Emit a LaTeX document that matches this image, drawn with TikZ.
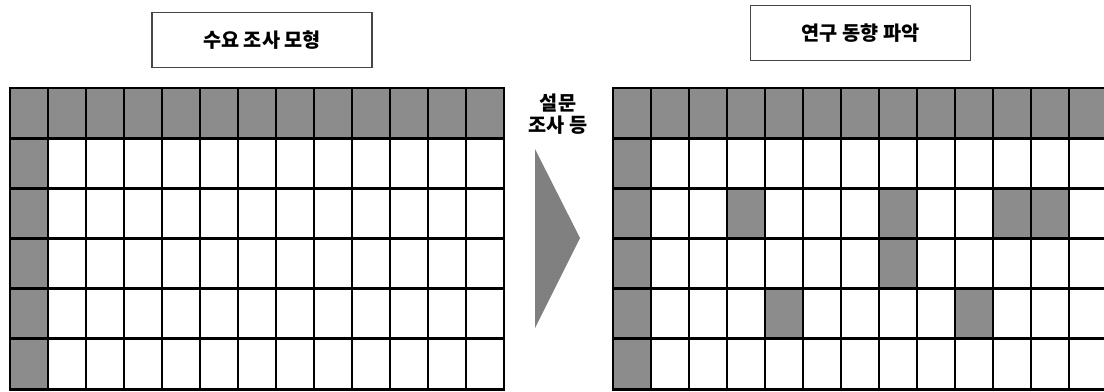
\documentclass[tikz,border=0pt]{standalone}
\usepackage{fontspec}
\newfontfamily\kofont{Noto Sans CJK KR}
\usetikzlibrary{positioning}
\definecolor{cellgray}{RGB}{140,140,140}
\definecolor{arrowgray}{RGB}{128,128,128}
\definecolor{boxline}{RGB}{70,70,70}

\begin{document}
\begin{tikzpicture}[x=0.025cm, y=-0.025cm,
      title/.style={
        rectangle, draw=boxline, fill=white, line width=1.1pt,
        minimum width=5.5cm, minimum height=1.38cm,
        font=\kofont\bfseries\fontsize{14}{16}\selectfont
      },
      cell/.style={fill=cellgray},
      gridline/.style={line width=2.1pt, draw=black, line cap=rect},
      label/.style={align=center, font=\kofont\bfseries\fontsize{14}{16}\selectfont}
    ]
      \useasboundingbox (0,0) rectangle (1104,391);
      % --- Titles above the two grids ---
      \node[title] (model) at (262,40) {수요 조사 모형};
      \node[title] (trend) at (860.5,33) {연구 동향 파악};
      % --- Shaded header row and first column, in both grids ---
      \foreach \gx in {10,613} {
        \foreach \c in {0,...,12}
          \fill[cell] (\gx+38*\c,88) rectangle ++(38,50.17);
        \foreach \r in {1,...,5}
          \fill[cell] (\gx,88+50.17*\r) rectangle ++(38,50.17);
      }
      % --- Cells found in the right grid (column/row) ---
      \foreach \c/\r in {3/2, 7/2, 10/2, 11/2, 7/3, 4/4, 9/4}
        \fill[cell] (613+38*\c,88+50.17*\r) rectangle ++(38,50.17);
      % --- Grid lines ---
      \foreach \gx in {10,613} {
        \foreach \c in {0,...,13}
          \draw[gridline] (\gx+38*\c,88) -- ++(0,301);
        \foreach \r in {0,...,6}
          \draw[gridline] (\gx,88+50.17*\r) -- ++(494,0);
      }
      % --- Arrow between the grids ---
      \coordinate (tail top) at (535,149);
      \coordinate (tip) at (580,238);
      \coordinate (tail bottom) at (535,328);
      \fill[arrowgray] (tail top) -- (tip) -- (tail bottom) -- cycle;
      \node[label] (survey) at (558,114) {설문\\조사 등};
    \end{tikzpicture}
\end{document}
